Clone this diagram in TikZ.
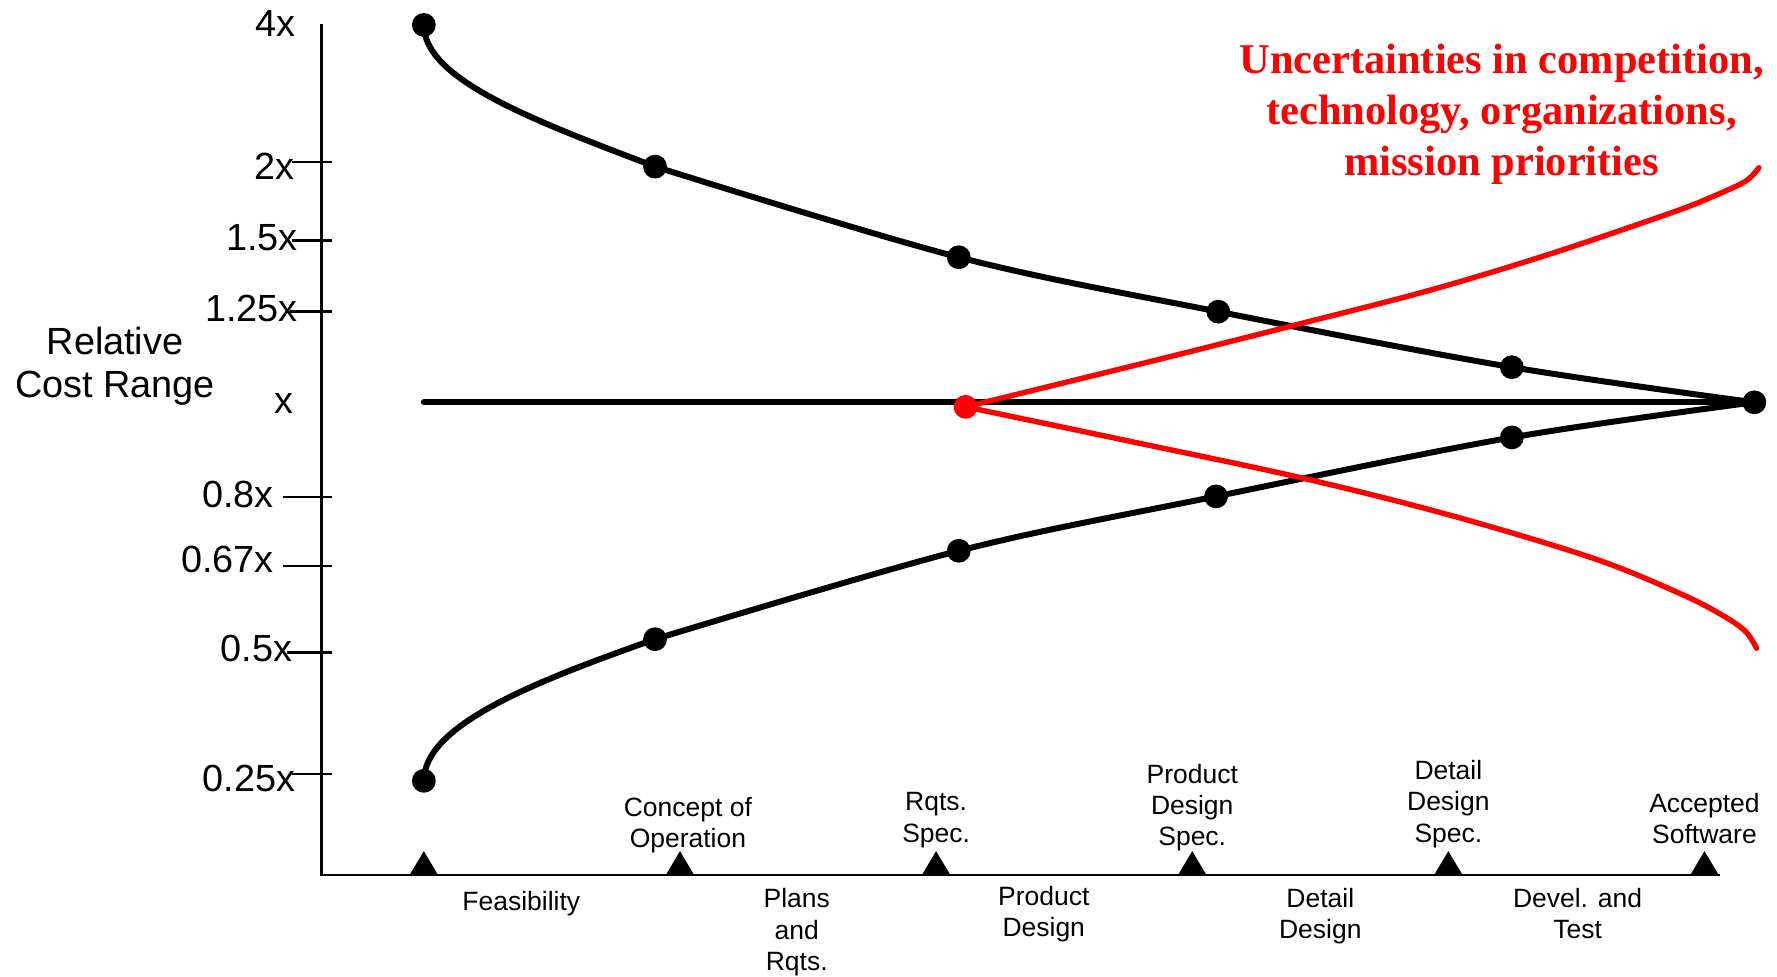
\documentclass[tikz,border=0pt]{standalone}
\usepackage{fontspec}
\setmainfont{Liberation Sans}
\newfontfamily\timesfont{Liberation Serif}
\begin{document}
\begin{tikzpicture}[x=0.02cm,y=-0.02cm,
  axisline/.style={line width=1.4pt},
  cost/.style={line width=3pt,line cap=round},
  risk/.style={line width=2.7pt,line cap=round,red},
  dot/.style={circle,fill,inner sep=0pt,minimum size=0.42cm},
  ylabel/.style={anchor=base east,inner sep=0pt,font=\fontsize{19}{22}\selectfont},
  phase/.style={anchor=base,align=center,inner sep=0pt,font=\fontsize{13.3}{15.6}\selectfont}]
  \useasboundingbox (0,0) rectangle (1568,862);
  \def\yt#1#2{
    \draw[axisline] (#1,#2) -- (293,#2);
  }
  \def\yl#1#2#3#4{
    \node[ylabel] (#1) at (#2,#3) {#4};
  }
  % axes
  \coordinate (top) at (284,21);
  \coordinate (origin) at (284,772);
  \coordinate (xend) at (1518,772);
  \draw[axisline] (top) -- (origin) -- (xend);
  \yt{258}{143}
  \yt{258}{212}
  \yt{256}{275}
  \yt{250}{438.5}
  \yt{250}{499.5}
  \yt{253}{575.5}
  \yt{258}{683}
  \yl{v4}{261}{32}{4x}
  \yl{v2}{260}{158}{2x}
  \yl{v15}{263}{221}{1.5x}
  \yl{v125}{263}{284}{1.25x}
  \yl{v1}{259}{365}{x}
  \yl{v08}{242}{448}{0.8x}
  \yl{v067}{242}{505}{0.67x}
  \yl{v05}{258}{584}{0.5x}
  \yl{v025}{261}{698}{0.25x}
  \node[anchor=base,align=center,inner sep=0pt,font=\fontsize{19}{21.5}\selectfont]
    (ylab) at (101.5,351) {Relative\\Cost Range};
  % milestones (anchor = base of last line)
  \foreach \x in {374,600,...,1504}
    \fill (\x-12.5,772) -- (\x,751) -- (\x+12.5,772) -- cycle;
  \node[phase] (conop) at (607,748) {Concept of\\Operation};
  \node[phase] (rqspec) at (826,743) {Rqts.\\Spec.};
  \node[phase] (pdspec) at (1052,746) {Product\\Design\\Spec.};
  \node[phase] (ddspec) at (1278,743) {Detail\\Design\\Spec.};
  \node[phase] (accsw) at (1504,744) {Accepted\\Software};
  \node[phase] (feas) at (460,803) {Feasibility};
  \node[phase] (plans) at (703,856) {Plans\\and\\Rqts.};
  \node[phase] (pdes) at (921,826) {Product\\Design};
  \node[phase] (ddes) at (1165,828) {Detail\\Design};
  \node[phase] (devel) at (1392,828) {Devel. and\\Test};
  % cost curves
  \foreach \x/\y [count=\i] in {374/22,578/147,846/227,1075/275,1334/324}
    \coordinate (u\i) at (\x,\y);
  \foreach \x/\y [count=\i] in {374/689,578/564,846/486,1073/438,1334/386}
    \coordinate (l\i) at (\x,\y);
  \coordinate (acc) at (1548,355);
  \coordinate (est) at (374,355);
  \coordinate (rq) at (852,359);
  \draw[cost] (est) -- (acc);
  \draw[cost] (u1) .. controls (374,70) and (470,106) .. (u2);
  \draw[cost] plot[smooth,tension=0.55] coordinates {(u2) (u3) (u4) (u5) (acc)};
  \draw[cost] (l1) .. controls (374,640) and (470,602) .. (l2);
  \draw[cost] plot[smooth,tension=0.55] coordinates {(l2) (l3) (l4) (l5) (acc)};
  \draw[risk] plot[smooth,tension=0.55] coordinates {(rq) (1015,319) (1142,287)
    (1262,256) (1368,224) (1474,188) (1510,174) (1540,160) (1552,148)};
  \draw[risk] plot[smooth,tension=0.55] coordinates {(rq) (1000,390) (1150,422)
    (1281,455) (1407,493) (1483,524) (1520,543) (1540,557) (1550,572)};
  \foreach \i in {1,...,5}{
    \node[dot] (U\i) at (u\i) {};
    \node[dot] (L\i) at (l\i) {};
  }
  \node[dot] (A) at (acc) {};
  \node[dot,red] (R) at (rq) {};
  \node[anchor=base,align=center,inner sep=0pt,red,
    font=\timesfont\bfseries\fontsize{21.3}{25.5}\selectfont]
    (unc) at (1325,154.5) {Uncertainties in competition,\\technology, organizations,\\mission priorities};
\end{tikzpicture}
\end{document}
